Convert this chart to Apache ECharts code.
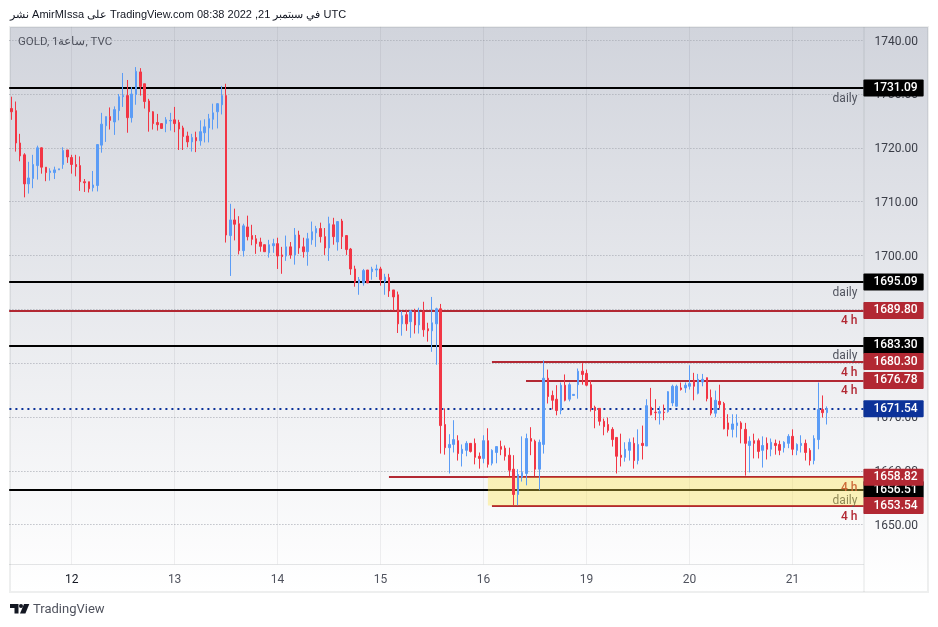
<!DOCTYPE html>
<html>
<head>
<meta charset="utf-8">
<title>GOLD 1h</title>
<script src="https://cdn.jsdelivr.net/npm/echarts@6/dist/echarts.min.js"></script>
<style>
html,body{margin:0;padding:0;background:#fff;}
#chart{width:938px;height:627px;}
</style>
</head>
<body>
<div id="chart"></div>
<script>
// hourly candles
var opens = [
1727.3,1726.9,1720.9,1718.7,1713.3,1714.3,1716.7,1720.0,1716.4,1715.4,1715.4,1715.9,1716.9,1719.6,1718.2,1716.9,1716.7,1713.7,1713.7,1712.6,1713.0,1720.5,1724.1,1725.8,1724.8,1726.9,1729.5,1729.7,1725.6,1729.9,1734.1,1731.9,1728.7,1726.7,1724.7,1724.5,1724.5,1725.0,1725.2,1724.7,1723.7,1722.2,1721.1,1721.9,1721.3,1722.8,1723.7,1725.3,1726.7,1728.0,
1729.7,1703.7,1706.6,1705.9,1700.9,1705.3,1703.7,1703.1,1702.5,1702.0,1700.5,1701.8,1702.2,1700.1,1699.9,1701.6,1700.1,1703.8,1701.6,1700.7,1702.9,1704.2,1705.0,1703.5,1701.4,1705.7,1702.5,1706.4,1703.7,1701.2,
1697.5,1694.9,1694.9,1697.3,1697.0,1697.3,1697.5,1695.1,1695.9,1693.6,1692.7,1687.3,1689.0,1687.7,1689.5,1687.1,1689.5,1686.4,1686.0,1687.3,1690.1,
1668.6,1664.3,1664.9,1665.6,1663.2,1663.8,1665.1,1665.1,1662.7,1662.3,1665.6,1661.4,1663.4,1664.5,1664.2,1662.9,1660.3,1655.6,1658.8,1659.5,1666.0,1665.5,1660.3,1664.9,1677.2,1674.0,1673.3,1671.2,1675.9,1673.3,1674.0,1676.0,1678.5,1678.1,1676.0,1671.8,1671.6,1669.2,1668.6,1667.7,1666.2,1662.9,1662.5,1663.8,1665.1,1661.9,1665.1,1664.6,
1671.8,1670.9,1670.7,1670.9,1671.0,1672.6,1672.0,1675.4,1675.4,1675.7,1676.8,1674.4,1676.5,1677.3,1673.6,1670.7,1672.9,1672.5,1668.9,1667.7,1668.4,1668.9,1667.7,1664.7,1665.6,1665.6,1663.8,1665.1,1664.0,1665.1,1664.9,1664.3,1665.1,1666.4,1663.8,1664.7,1665.1,1663.8,1661.9,1665.8,1671.4,1670.8
];
var closes = [
1726.7,1720.9,1718.5,1713.3,1714.4,1716.9,1720.0,1716.4,1715.4,1715.7,1715.9,1716.1,1719.5,1718.3,1716.9,1716.5,1713.7,1713.5,1712.4,1713.1,1720.6,1724.4,1725.8,1725.1,1727.1,1729.5,1729.7,1725.6,1730.0,1734.2,1731.4,1728.6,1726.7,1724.5,1724.3,1723.6,1725.2,1725.1,1724.5,1723.5,1722.1,1721.1,1721.9,1721.3,1723.0,1723.9,1725.4,1726.5,1728.2,1729.7,
1703.8,1706.6,1705.8,1700.9,1705.5,1703.5,1703.0,1702.2,1701.7,1700.7,1702.0,1702.2,1699.9,1699.8,1701.6,1700.1,1703.8,1701.4,1700.7,1703.1,1704.4,1705.0,1703.5,1701.4,1705.9,1703.5,1706.3,1703.5,1701.1,1697.5,
1695.0,1695.5,1697.2,1694.9,1697.5,1697.5,1695.5,1696.0,1693.4,1692.3,1687.3,1688.8,1687.3,1689.7,1687.1,1689.5,1686.2,1686.0,1687.5,1690.1,1668.4,
1664.3,1664.9,1665.8,1663.2,1664.0,1665.1,1663.6,1662.5,1662.3,1665.6,1661.2,1663.8,1664.5,1664.0,1662.7,1660.1,1655.6,1659.3,1659.7,1666.0,1665.5,1660.3,1665.3,1677.2,1673.8,1673.1,1671.2,1675.9,1673.1,1676.0,1674.2,1678.5,1677.9,1675.9,1671.6,1671.2,1669.2,1668.2,1667.5,1665.8,1662.7,1662.5,1664.0,1665.3,1661.9,1664.9,1664.7,1672.1,
1670.4,1670.8,1671.0,1670.8,1674.7,1675.7,1675.7,1675.1,1675.9,1676.2,1675.7,1677.0,1677.0,1673.4,1670.7,1673.1,1672.3,1667.8,1667.7,1668.7,1668.9,1667.8,1665.1,1665.5,1665.1,1663.6,1664.7,1664.0,1665.3,1664.7,1663.8,1665.3,1666.4,1664.0,1664.9,1665.1,1663.4,1661.9,1666.0,1671.4,1670.8,1671.54
];
var lows = [
1725.2,1719.3,1717.5,1710.8,1711.5,1712.5,1714.1,1715.2,1713.8,1713.9,1714.2,1715.9,1716.1,1717.2,1715.2,1714.7,1712.0,1711.8,1711.7,1711.9,1711.9,1719.1,1721.1,1723.4,1722.4,1725.1,1727.6,1722.8,1724.7,1728.0,1729.7,1727.3,1723.0,1723.4,1723.2,1723.6,1722.9,1723.2,1722.9,1719.6,1719.6,1720.1,1719.3,1719.2,1720.4,1721.0,1721.0,1723.4,1723.6,1726.2,
1702.4,1696.2,1702.8,1700.2,1699.8,1702.8,1701.9,1700.3,1700.7,1700.7,1699.6,1700.5,1697.5,1696.6,1699.0,1699.4,1698.3,1700.3,1699.6,1698.1,1702.0,1701.6,1702.4,1700.1,1699.0,1702.0,1700.9,1701.2,1700.1,1696.4,
1694.2,1692.7,1694.4,1694.9,1695.5,1696.0,1694.4,1692.7,1692.3,1689.8,1685.6,1685.1,1686.0,1684.7,1685.5,1685.5,1684.9,1684.0,1682.1,1679.7,1663.2,
1663.0,1659.5,1663.4,1661.9,1660.8,1662.7,1663.4,1661.2,1660.4,1661.4,1660.6,1661.0,1661.4,1662.9,1661.9,1659.0,1653.6,1653.6,1658.0,1657.3,1662.9,1659.0,1656.4,1663.2,1672.5,1671.4,1670.3,1670.5,1672.9,1672.9,1674.0,1673.4,1676.0,1675.7,1671.0,1667.9,1668.4,1666.6,1667.1,1664.5,1659.5,1660.8,1661.7,1661.9,1660.4,1661.2,1662.1,1664.6,
1670.3,1669.4,1668.6,1669.4,1670.8,1672.0,1671.9,1674.9,1674.5,1675.1,1673.1,1674.2,1675.7,1672.9,1670.3,1670.0,1671.6,1667.7,1666.4,1666.2,1666.2,1665.1,1659.1,1659.7,1662.3,1662.3,1660.6,1662.1,1662.7,1663.0,1662.9,1663.4,1664.2,1662.9,1662.9,1663.4,1661.9,1661.0,1661.2,1664.0,1669.9,1668.6
];
var highs = [
1729.5,1728.6,1722.6,1719.0,1717.4,1718.7,1720.4,1720.1,1716.4,1716.2,1716.5,1716.1,1720.1,1719.6,1718.7,1718.7,1718.4,1714.2,1713.7,1715.7,1720.7,1726.5,1725.8,1727.5,1727.7,1730.0,1733.9,1732.6,1731.3,1735.0,1734.8,1731.9,1729.1,1726.8,1726.3,1724.5,1725.7,1726.5,1727.6,1725.2,1724.1,1723.0,1722.6,1723.0,1725.1,1725.3,1726.3,1728.2,1728.3,1731.5,
1731.9,1709.6,1708.7,1707.3,1705.9,1707.4,1705.7,1703.8,1703.3,1702.0,1702.9,1703.1,1703.3,1701.6,1703.7,1702.5,1705.1,1704.6,1703.3,1704.2,1706.3,1705.5,1706.1,1705.1,1707.2,1707.0,1706.4,1706.8,1703.8,1701.4,
1698.1,1696.0,1697.5,1697.3,1697.9,1698.3,1697.9,1696.6,1696.6,1693.6,1693.3,1689.7,1689.9,1689.9,1690.1,1690.3,1691.4,1687.5,1692.3,1690.3,1691.0,
1671.6,1666.8,1669.4,1666.6,1664.9,1665.5,1665.1,1666.0,1663.4,1666.6,1667.9,1664.0,1664.5,1665.6,1664.7,1664.3,1662.9,1660.3,1666.4,1666.9,1668.1,1665.8,1665.8,1680.5,1678.8,1674.9,1675.9,1676.4,1677.9,1676.4,1674.2,1679.0,1680.0,1678.8,1676.8,1672.1,1671.6,1669.7,1669.9,1668.1,1666.2,1666.9,1665.3,1666.0,1666.2,1667.7,1668.4,1673.3,
1675.4,1673.3,1672.0,1672.3,1674.8,1676.0,1676.0,1676.4,1676.4,1679.6,1678.2,1678.0,1678.0,1677.3,1675.1,1674.9,1676.0,1672.8,1670.5,1670.5,1670.5,1669.2,1668.9,1666.4,1666.9,1666.0,1666.4,1666.2,1666.0,1665.8,1665.6,1665.5,1666.8,1667.7,1665.1,1666.6,1665.8,1664.2,1666.6,1676.4,1674.0,1671.96
];

var totalSlots = 199;                 // hourly slots on the time axis, with the empty ones on the right
var dayLabels = ['12','13','14','15','16','19','20','21'];
var daySlots = [14,38,62,86,110,134,158,182];
var priceTicks = [1650,1660,1670,1680,1690,1700,1710,1720,1730,1740];

// horizontal levels, black first so the red tags sit on top of them
var levelPrices = [1731.09,1695.09,1683.30,1656.51,1671.54,1689.80,1680.30,1676.78,1658.82,1653.54];
var levelStarts = [0,0,0,0,0,0,112.45,120.4,88.45,112.45];
var levelKinds = ['daily','daily','daily','daily','last','4 h','4 h','4 h','4 h','4 h'];
var zoneBox = [111.5,1658.82,199,1653.54];

var BLACK = '#000000', RED = '#b22833', NAVY = '#0c3299';
var FONT = 'Roboto, "Liberation Sans", sans-serif';

var candles = [];
for (var i = 0; i < opens.length; i++) {
    candles.push([opens[i], closes[i], lows[i], highs[i]]);
}
var categories = [];
for (var s = 0; s < totalSlots; s++) {
    var d = daySlots.indexOf(s);
    categories.push(d >= 0 ? dayLabels[d] : '');
}
var isDaySlot = function(index){
    return daySlots.indexOf(index) >= 0;
};

var levelLines = [];
levelPrices.forEach(function(price, k){
    var kind = levelKinds[k];
    var color = kind == 'daily' ? BLACK : (kind == 'last' ? NAVY : RED);
    var style = {color: color, width: 2, type: kind == 'last' ? [2, 4] : 'solid', opacity: 1};
    // line with the price tag on the axis
    levelLines.push([{
        coord: [levelStarts[k], price],
        lineStyle: style,
        label: {
            show: true, position: 'end', distance: 0,
            formatter: price.toFixed(2),
            color: '#fff', fontSize: 12, fontFamily: FONT, fontWeight: 500,
            backgroundColor: color, padding: [3, 6, 2, 10], borderRadius: 1
        }
    }, {coord: [totalSlots, price]}]);
    // small note under the line
    if (kind != 'last') {
        levelLines.push([{
            coord: [levelStarts[k], price],
            lineStyle: style,
            label: {
                show: true, position: 'insideEndBottom', distance: 5,
                formatter: kind,
                color: kind == 'daily' ? '#50535e' : RED,
                fontSize: 12, fontFamily: FONT, fontWeight: kind == 'daily' ? 400 : 500,
                padding: [0, 1, 0, 0]
            }
        }, {coord: [totalSlots, price]}]);
    }
});

var chart = echarts.init(document.getElementById('chart'));
chart.setOption({
    animation: false,
    grid: {left: 9.4, top: 26.7, width: 854, height: 537.5, containLabel: false},
    xAxis: [
        {
            type: 'category',
            data: categories,
            axisLine: {show: true, lineStyle: {color: 'rgba(42,46,57,0.12)', width: 1}},
            axisTick: {show: false, alignWithLabel: true, interval: function(index){ return isDaySlot(index); }},
            splitLine: {
                show: true, alignWithLabel: true,
                interval: function(index){ return isDaySlot(index); },
                lineStyle: {color: 'rgba(42,46,57,0.07)', width: 1}
            },
            axisLabel: {
                interval: function(index){ return isDaySlot(index); },
                margin: 9.5, fontSize: 12, fontFamily: FONT,
                color: function(value){ return value == dayLabels[0] ? '#131722' : '#50535e'; }
            }
        },
        // same width as the slots, so levels can run to the very edge of the plot
        {type: 'value', min: 0, max: totalSlots, show: false, gridIndex: 0}
    ],
    yAxis: {
        type: 'value',
        position: 'right',
        scale: true,
        min: 1642.65,
        max: 1742.5,
        axisLine: {show: false},
        axisTick: {show: false, customValues: priceTicks},
        splitLine: {show: true, lineStyle: {color: '#a4a7b0', width: 1, type: [1, 2]}},
        axisLabel: {
            customValues: priceTicks,
            margin: 11, fontSize: 12, fontFamily: FONT, color: '#3a3d47',
            verticalAlign: 'top', lineHeight: 3,
            formatter: function(v){ return v.toFixed(2); }
        }
    },
    series: [
        {
            name: 'levels',
            type: 'line',
            xAxisIndex: 1,
            data: [],
            z: 2,
            markLine: {z: 2, silent: true, symbol: 'none', animation: false, precision: 2, data: levelLines}
        },
        {
            name: 'zone',
            type: 'line',
            xAxisIndex: 1,
            data: [],
            z: 3,
            markArea: {
                z: 3, silent: true, animation: false,
                itemStyle: {color: 'rgba(255,230,70,0.36)'},
                data: [[{coord: [zoneBox[0], zoneBox[1]]}, {coord: [zoneBox[2], zoneBox[3]]}]]
            }
        },
        {
            name: 'GOLD',
            type: 'candlestick',
            xAxisIndex: 0,
            data: candles,
            z: 4,
            barWidth: 2,
            itemStyle: {
                color: '#5b9cf6', borderColor: '#5b9cf6',
                color0: '#f23645', borderColor0: '#f23645',
                borderWidth: 1
            }
        }
    ],
    graphic: [
        {
            type: 'rect', z: -10, silent: true,
            shape: {x: 10, y: 27, width: 918, height: 565},
            style: {fill: new echarts.graphic.LinearGradient(0, 0, 0, 1, [
                {offset: 0, color: '#d1d4dc'},
                {offset: 1, color: '#ffffff'}
            ])}
        },
        {type: 'rect', z: 10, silent: true, shape: {x: 10, y: 27, width: 918, height: 565},
            style: {fill: 'none', stroke: 'rgba(42,46,57,0.08)', lineWidth: 2}},
        {type: 'line', z: 10, silent: true, shape: {x1: 864, y1: 27, x2: 864, y2: 592},
            style: {stroke: 'rgba(42,46,57,0.12)', lineWidth: 1}},
        {type: 'text', z: 10, silent: true, x: 10, y: 9.5,
            style: {text: 'نشر AmirMIssa على TradingView.com 08:38 2022 ,21 في سبتمبر UTC', fill: '#131722', font: '11px "Liberation Sans", sans-serif'}},
        {type: 'text', z: 10, silent: true, x: 18, y: 36,
            style: {text: 'GOLD, 1ساعة, TVC', fill: '#50535e', font: '11.5px ' + FONT}},
        {type: 'polygon', z: 10, silent: true,
            shape: {points: [[10,604],[18.5,604],[18.5,613.5],[14.5,613.5],[14.5,608],[10,608]]},
            style: {fill: '#131722'}},
        {type: 'circle', z: 10, silent: true, shape: {cx: 21, cy: 606, r: 2}, style: {fill: '#131722'}},
        {type: 'polygon', z: 10, silent: true,
            shape: {points: [[24,604],[29.3,604],[25.4,613.5],[20,613.5]]},
            style: {fill: '#131722'}},
        {type: 'text', z: 10, silent: true, x: 33, y: 603,
            style: {text: 'TradingView', fill: '#50535e', font: '13px ' + FONT}}
    ]
});
</script>
</body>
</html>
